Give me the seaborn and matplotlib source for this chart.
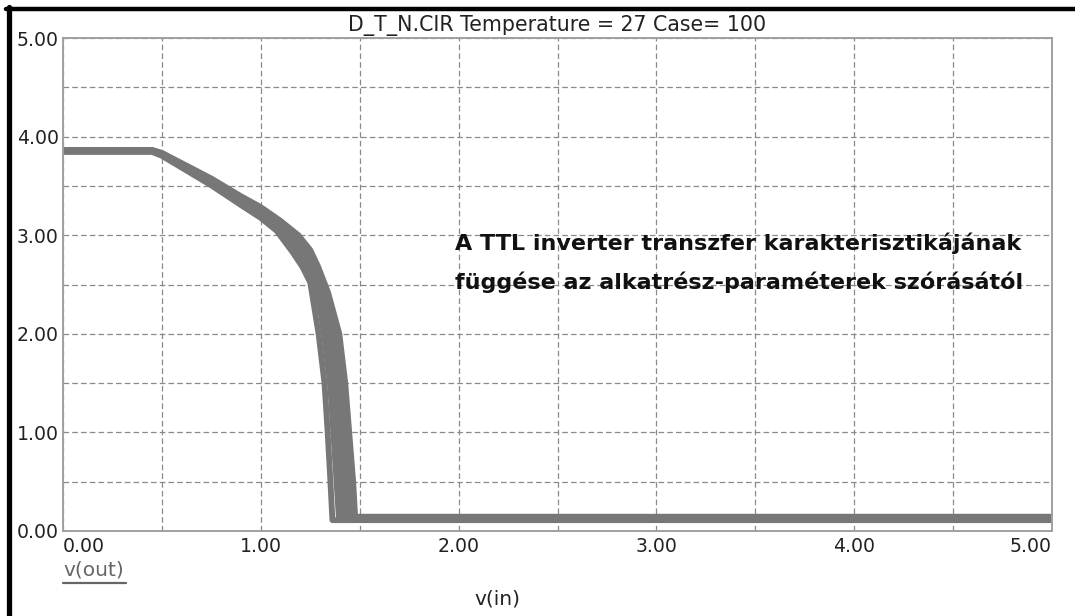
import pandas as pd
import seaborn as sns
import matplotlib
matplotlib.use("Agg")
import matplotlib.pyplot as plt
from matplotlib.lines import Line2D
from matplotlib.ticker import MultipleLocator, FixedFormatter, FixedLocator

# Monte Carlo transfer curves, v(in) -> v(out)
case_ids = [1, 2, 3, 4, 5, 6]

vin_1 = [0.0, 0.45, 0.50, 0.75, 0.90, 1.00, 1.08, 1.16, 1.21, 1.25, 1.292, 1.322, 1.338, 1.352, 1.362, 5.0]
vout_1 = [3.845, 3.845, 3.805, 3.505, 3.305, 3.175, 3.045, 2.83, 2.68, 2.52, 2.0, 1.5, 1.0, 0.5, 0.11, 0.11]

vin_2 = [0.0, 0.45, 0.50, 0.75, 0.90, 1.00, 1.08, 1.17, 1.23, 1.27, 1.30, 1.320, 1.350, 1.367, 1.383, 1.395, 5.0]
vout_2 = [3.85, 3.85, 3.815, 3.525, 3.33, 3.21, 3.07, 2.87, 2.70, 2.52, 2.25, 2.0, 1.5, 1.0, 0.5, 0.12, 0.12]

vin_3 = [0.0, 0.45, 0.50, 0.75, 0.90, 1.00, 1.09, 1.18, 1.24, 1.28, 1.32, 1.343, 1.373, 1.391, 1.408, 1.420, 5.0]
vout_3 = [3.855, 3.855, 3.82, 3.54, 3.35, 3.23, 3.09, 2.90, 2.74, 2.57, 2.30, 2.0, 1.5, 1.0, 0.5, 0.125, 0.125]

vin_4 = [0.0, 0.45, 0.50, 0.75, 0.90, 1.00, 1.09, 1.18, 1.25, 1.29, 1.34, 1.365, 1.395, 1.413, 1.432, 1.442, 5.0]
vout_4 = [3.86, 3.86, 3.825, 3.555, 3.37, 3.25, 3.11, 2.94, 2.78, 2.60, 2.32, 2.0, 1.5, 1.0, 0.5, 0.13, 0.13]

vin_5 = [0.0, 0.45, 0.50, 0.75, 0.90, 1.00, 1.10, 1.19, 1.25, 1.29, 1.34, 1.381, 1.411, 1.430, 1.449, 1.460, 5.0]
vout_5 = [3.862, 3.862, 3.83, 3.565, 3.385, 3.27, 3.13, 2.97, 2.82, 2.64, 2.38, 2.0, 1.5, 1.0, 0.5, 0.135, 0.135]

vin_6 = [0.0, 0.45, 0.50, 0.75, 0.90, 1.00, 1.10, 1.19, 1.25, 1.29, 1.34, 1.397, 1.427, 1.447, 1.467, 1.477, 5.0]
vout_6 = [3.865, 3.865, 3.835, 3.575, 3.395, 3.285, 3.145, 3.0, 2.85, 2.68, 2.42, 2.0, 1.5, 1.0, 0.5, 0.145, 0.145]

x_ticks = [0, 1, 2, 3, 4, 5]
x_tick_labels = ["0.00", "1.00", "2.00", "3.00", "4.00", "5.00"]
y_ticks = [0, 1, 2, 3, 4, 5]
y_tick_labels = ["0.00", "1.00", "2.00", "3.00", "4.00", "5.00"]

title_text = "D_T_N.CIR Temperature = 27 Case= 100"
note_lines = ["A TTL inverter transzfer karakterisztikájának",
              "függése az alkatrész-paraméterek szórásától"]

# long-form table for seaborn
curves = [(vin_1, vout_1), (vin_2, vout_2), (vin_3, vout_3),
          (vin_4, vout_4), (vin_5, vout_5), (vin_6, vout_6)]
records = []
for case, (xs, ys) in zip(case_ids, curves):
    for step, (xv, yv) in enumerate(zip(xs, ys)):
        records.append({"case": case, "step": step, "v_in": xv, "v_out": yv})
df = pd.DataFrame(records)

sns.set_style("white")
plt.rcParams["font.family"] = ["DejaVu Sans"]

W, H = 1075, 616
fig = plt.figure(figsize=(W / 100, H / 100), dpi=100)
ax = fig.add_axes([63 / W, 1 - 531 / H, (1052 - 63) / W, (531 - 38) / H])

sns.lineplot(data=df, x="v_in", y="v_out", units="case", estimator=None,
             sort=False, color="#777777", linewidth=4.2, ax=ax,
             solid_capstyle="butt", solid_joinstyle="round")

ax.set_xlim(0, 5)
ax.set_ylim(0, 5)

# grid every 0.5, labels every 1
ax.xaxis.set_major_locator(FixedLocator(x_ticks))
ax.xaxis.set_major_formatter(FixedFormatter(x_tick_labels))
ax.yaxis.set_major_locator(FixedLocator(y_ticks))
ax.yaxis.set_major_formatter(FixedFormatter(y_tick_labels))
ax.xaxis.set_minor_locator(MultipleLocator(0.5))
ax.yaxis.set_minor_locator(MultipleLocator(0.5))
ax.grid(True, which="both", color="#8a8a8a", linestyle=(0, (4.5, 2.5)), linewidth=0.9)
ax.set_axisbelow(True)
ax.tick_params(which="both", length=0)
ax.tick_params(axis="x", labelsize=13.6, pad=4, colors="#222222")
ax.tick_params(axis="y", labelsize=13.6, pad=3, colors="#222222")
xl = ax.get_xticklabels()
xl[0].set_ha("left")
xl[-1].set_ha("right")

for side in ["left", "right", "top", "bottom"]:
    ax.spines[side].set_color("#a0a0a0")
    ax.spines[side].set_linewidth(1.4)

ax.set_xlabel("")
ax.set_ylabel("")

fig.text(557 / W, 1 - 26 / H, title_text, ha="center", va="center",
         fontsize=14.8, color="#222222")

fig.text(455 / W, 1 - 243 / H, note_lines[0], ha="left", va="center",
         fontsize=16.0, fontweight="bold", color="#111111")
fig.text(455 / W, 1 - 282 / H, note_lines[1], ha="left", va="center",
         fontsize=16.0, fontweight="bold", color="#111111")

# trace name (underlined) and x axis name
fig.text(63 / W, 1 - 570 / H, "v(out)", ha="left", va="center",
         fontsize=14.5, color="#666666")
fig.add_artist(Line2D([63 / W, 126 / W], [1 - 583 / H, 1 - 583 / H],
                      color="#666666", linewidth=1.6))
fig.text(497 / W, 1 - 599 / H, "v(in)", ha="center", va="center",
         fontsize=14.5, color="#222222")

# black window border on the left and top
fig.add_artist(Line2D([8.5 / W, 8.5 / W], [0, 1 - 7 / H], color="black", linewidth=3.8))
fig.add_artist(Line2D([6 / W, 1], [1 - 9 / H, 1 - 9 / H], color="black", linewidth=3.2))

fig.savefig("out.png", dpi=100)
